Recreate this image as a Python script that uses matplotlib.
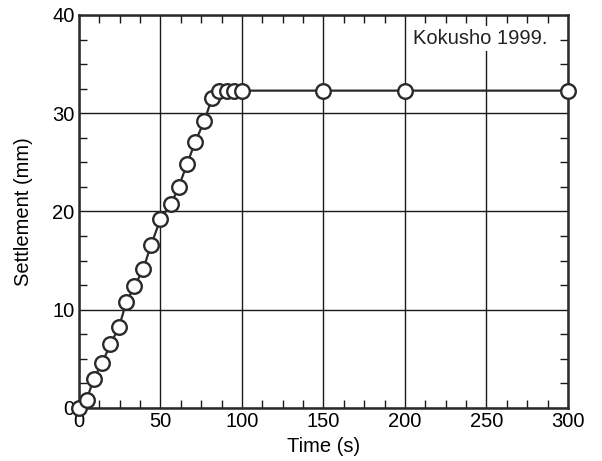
import matplotlib
matplotlib.use('Agg')
import matplotlib.pyplot as plt
from matplotlib.ticker import MultipleLocator

plt.rcParams['font.family'] = ['Liberation Sans', 'DejaVu Sans']

# settlement record
time_s = [0, 4.7, 9.2, 14.3, 19.4, 24.5, 29.2, 34.1, 39.4, 44.3, 50,
          56.7, 61.2, 66.3, 71.4, 76.9, 81.6, 86.1, 90.8, 95, 100,
          150, 200, 300]
settlement_mm = [0, 0.8, 3.0, 4.6, 6.5, 8.2, 10.8, 12.4, 14.1, 16.6, 19.2,
                 20.8, 22.5, 24.8, 27.1, 29.2, 31.5, 32.3, 32.3, 32.3, 32.3,
                 32.3, 32.3, 32.3]
x_ticks = [0, 50, 100, 150, 200, 250, 300]
y_ticks = [0, 10, 20, 30, 40]

fig = plt.figure(figsize=(6.02, 4.61), dpi=100)
ax = fig.add_axes([0.131, 0.115, 0.8125, 0.8525])

ax.plot(time_s, settlement_mm, '-o', color='#2a2a2a', lw=1.6,
        ms=10.5, mfc='white', mec='#2a2a2a', mew=1.7, clip_on=False, zorder=5)

ax.set_xlim(0, 300)
ax.set_ylim(0, 40)
ax.set_xticks(x_ticks)
ax.set_yticks(y_ticks)
ax.xaxis.set_minor_locator(MultipleLocator(12.5))
ax.yaxis.set_minor_locator(MultipleLocator(2.5))
ax.grid(True, which='major', color='#1a1a1a', lw=1.0)
ax.tick_params(which='both', direction='in', top=True, right=True,
               color='#1a1a1a', labelsize=14.5, pad=3)
ax.tick_params(which='major', length=0)
ax.tick_params(which='minor', length=6, width=1.0)
for sp in ax.spines.values():
    sp.set_linewidth(1.8)
    sp.set_color('#2a2a2a')

ax.set_xlabel('Time (s)', fontsize=14.5, labelpad=4)
ax.set_ylabel('Settlement (mm)', fontsize=14.5, labelpad=14)
ax.text(0.959, 0.94, 'Kokusho 1999.', transform=ax.transAxes, ha='right',
        va='center', fontsize=14.5, color='#222222',
        bbox=dict(facecolor='white', edgecolor='none', pad=2), zorder=4)

fig.savefig('out.png', dpi=100)
